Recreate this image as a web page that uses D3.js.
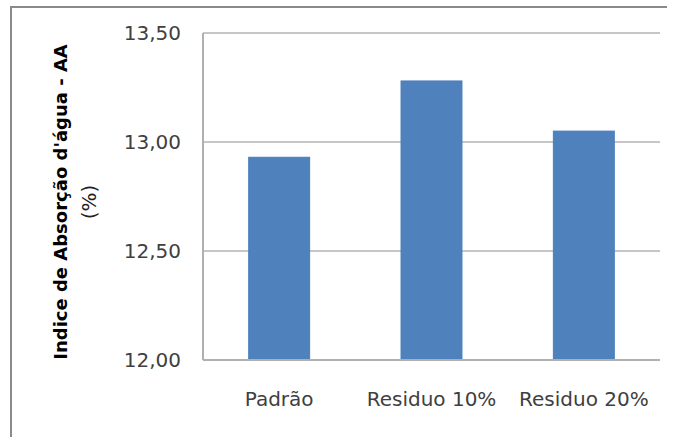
<!DOCTYPE html>
<html>
<head>
<meta charset="utf-8">
<script src="https://cdnjs.cloudflare.com/ajax/libs/d3/7.8.5/d3.min.js"></script>
<style>
  body { margin: 0; background: #fff; }
  svg { display: block; }
</style>
</head>
<body>
<div id="chart"></div>
<script>
// chart data
const categories = ["Padrão", "Residuo 10%", "Residuo 20%"];
const values = [12.93, 13.28, 13.05];
const yTicks = [12.0, 12.5, 13.0, 13.5];
const yTitle = "Indice de Absorção d'água - AA";
const yTitle2 = "(%)";

const W = 676, H = 437;
const margin = { top: 33, right: 16, bottom: 77, left: 203 };
const width = 660 - margin.left;
const height = 360 - margin.top;

const svg = d3.select("#chart")
    .append("svg")
    .attr("width", W)
    .attr("height", H);

// outer frame (only top and left visible in the crop)
svg.append("path")
    .attr("d", `M11,${H} L11,7 L667,7`)
    .attr("fill", "none")
    .attr("stroke", "#8a8a8a")
    .attr("stroke-width", 2);

const g = svg.append("g")
    .attr("transform", `translate(${margin.left},${margin.top})`);

const x = d3.scaleBand()
    .domain(categories)
    .range([0, width])
    .paddingInner(0.6)
    .paddingOuter(0.3);

const y = d3.scaleLinear()
    .domain([12, 13.5])
    .range([height, 0]);

// gridlines
g.selectAll(".grid")
    .data(yTicks.filter(d => d > 12))
    .enter()
    .append("line")
    .attr("x1", 0)
    .attr("x2", width)
    .attr("y1", d => y(d))
    .attr("y2", d => y(d))
    .attr("stroke", "#c6c6c6")
    .attr("stroke-width", 2);

// bars
g.selectAll(".bar")
    .data(values)
    .enter()
    .append("rect")
    .attr("x", (d, i) => x(categories[i]))
    .attr("width", x.bandwidth())
    .attr("y", d => y(d))
    .attr("height", d => height - y(d))
    .attr("fill", "#4f81bd")
    .attr("stroke", "#4a7ebb")
    .attr("stroke-width", 1);

// axis lines
g.append("line")
    .attr("x1", 0).attr("x2", 0)
    .attr("y1", 0).attr("y2", height)
    .attr("stroke", "#b0b0b0")
    .attr("stroke-width", 2);
g.append("line")
    .attr("x1", 0).attr("x2", width)
    .attr("y1", height).attr("y2", height)
    .attr("stroke", "#b0b0b0")
    .attr("stroke-width", 2);

// y axis labels
const fmt = d => d3.format(".2f")(d).replace(".", ",");
const yAxis = g.append("g")
    .call(d3.axisLeft(y).tickValues(yTicks).tickFormat(fmt).tickSize(0).tickPadding(22));
yAxis.select(".domain").remove();
yAxis.selectAll("text")
    .attr("font-family", "DejaVu Sans")
    .attr("font-size", 20)
    .attr("fill", "#404040");

// x axis labels
const xAxis = g.append("g")
    .attr("transform", `translate(0,${height})`)
    .call(d3.axisBottom(x).tickSize(0).tickPadding(32));
xAxis.select(".domain").remove();
xAxis.selectAll("text")
    .attr("font-family", "DejaVu Sans")
    .attr("font-size", 20)
    .attr("fill", "#404040");

// y axis title
svg.append("text")
    .attr("transform", "translate(67,202) rotate(-90)")
    .attr("text-anchor", "middle")
    .attr("font-family", "DejaVu Sans")
    .attr("font-weight", "bold")
    .attr("font-size", 18)
    .attr("fill", "#000")
    .text(yTitle);

svg.append("text")
    .attr("transform", "translate(96,202) rotate(-90)")
    .attr("text-anchor", "middle")
    .attr("font-family", "DejaVu Sans")
    .attr("font-size", 20)
    .attr("fill", "#222")
    .text(yTitle2);
</script>
</body>
</html>
